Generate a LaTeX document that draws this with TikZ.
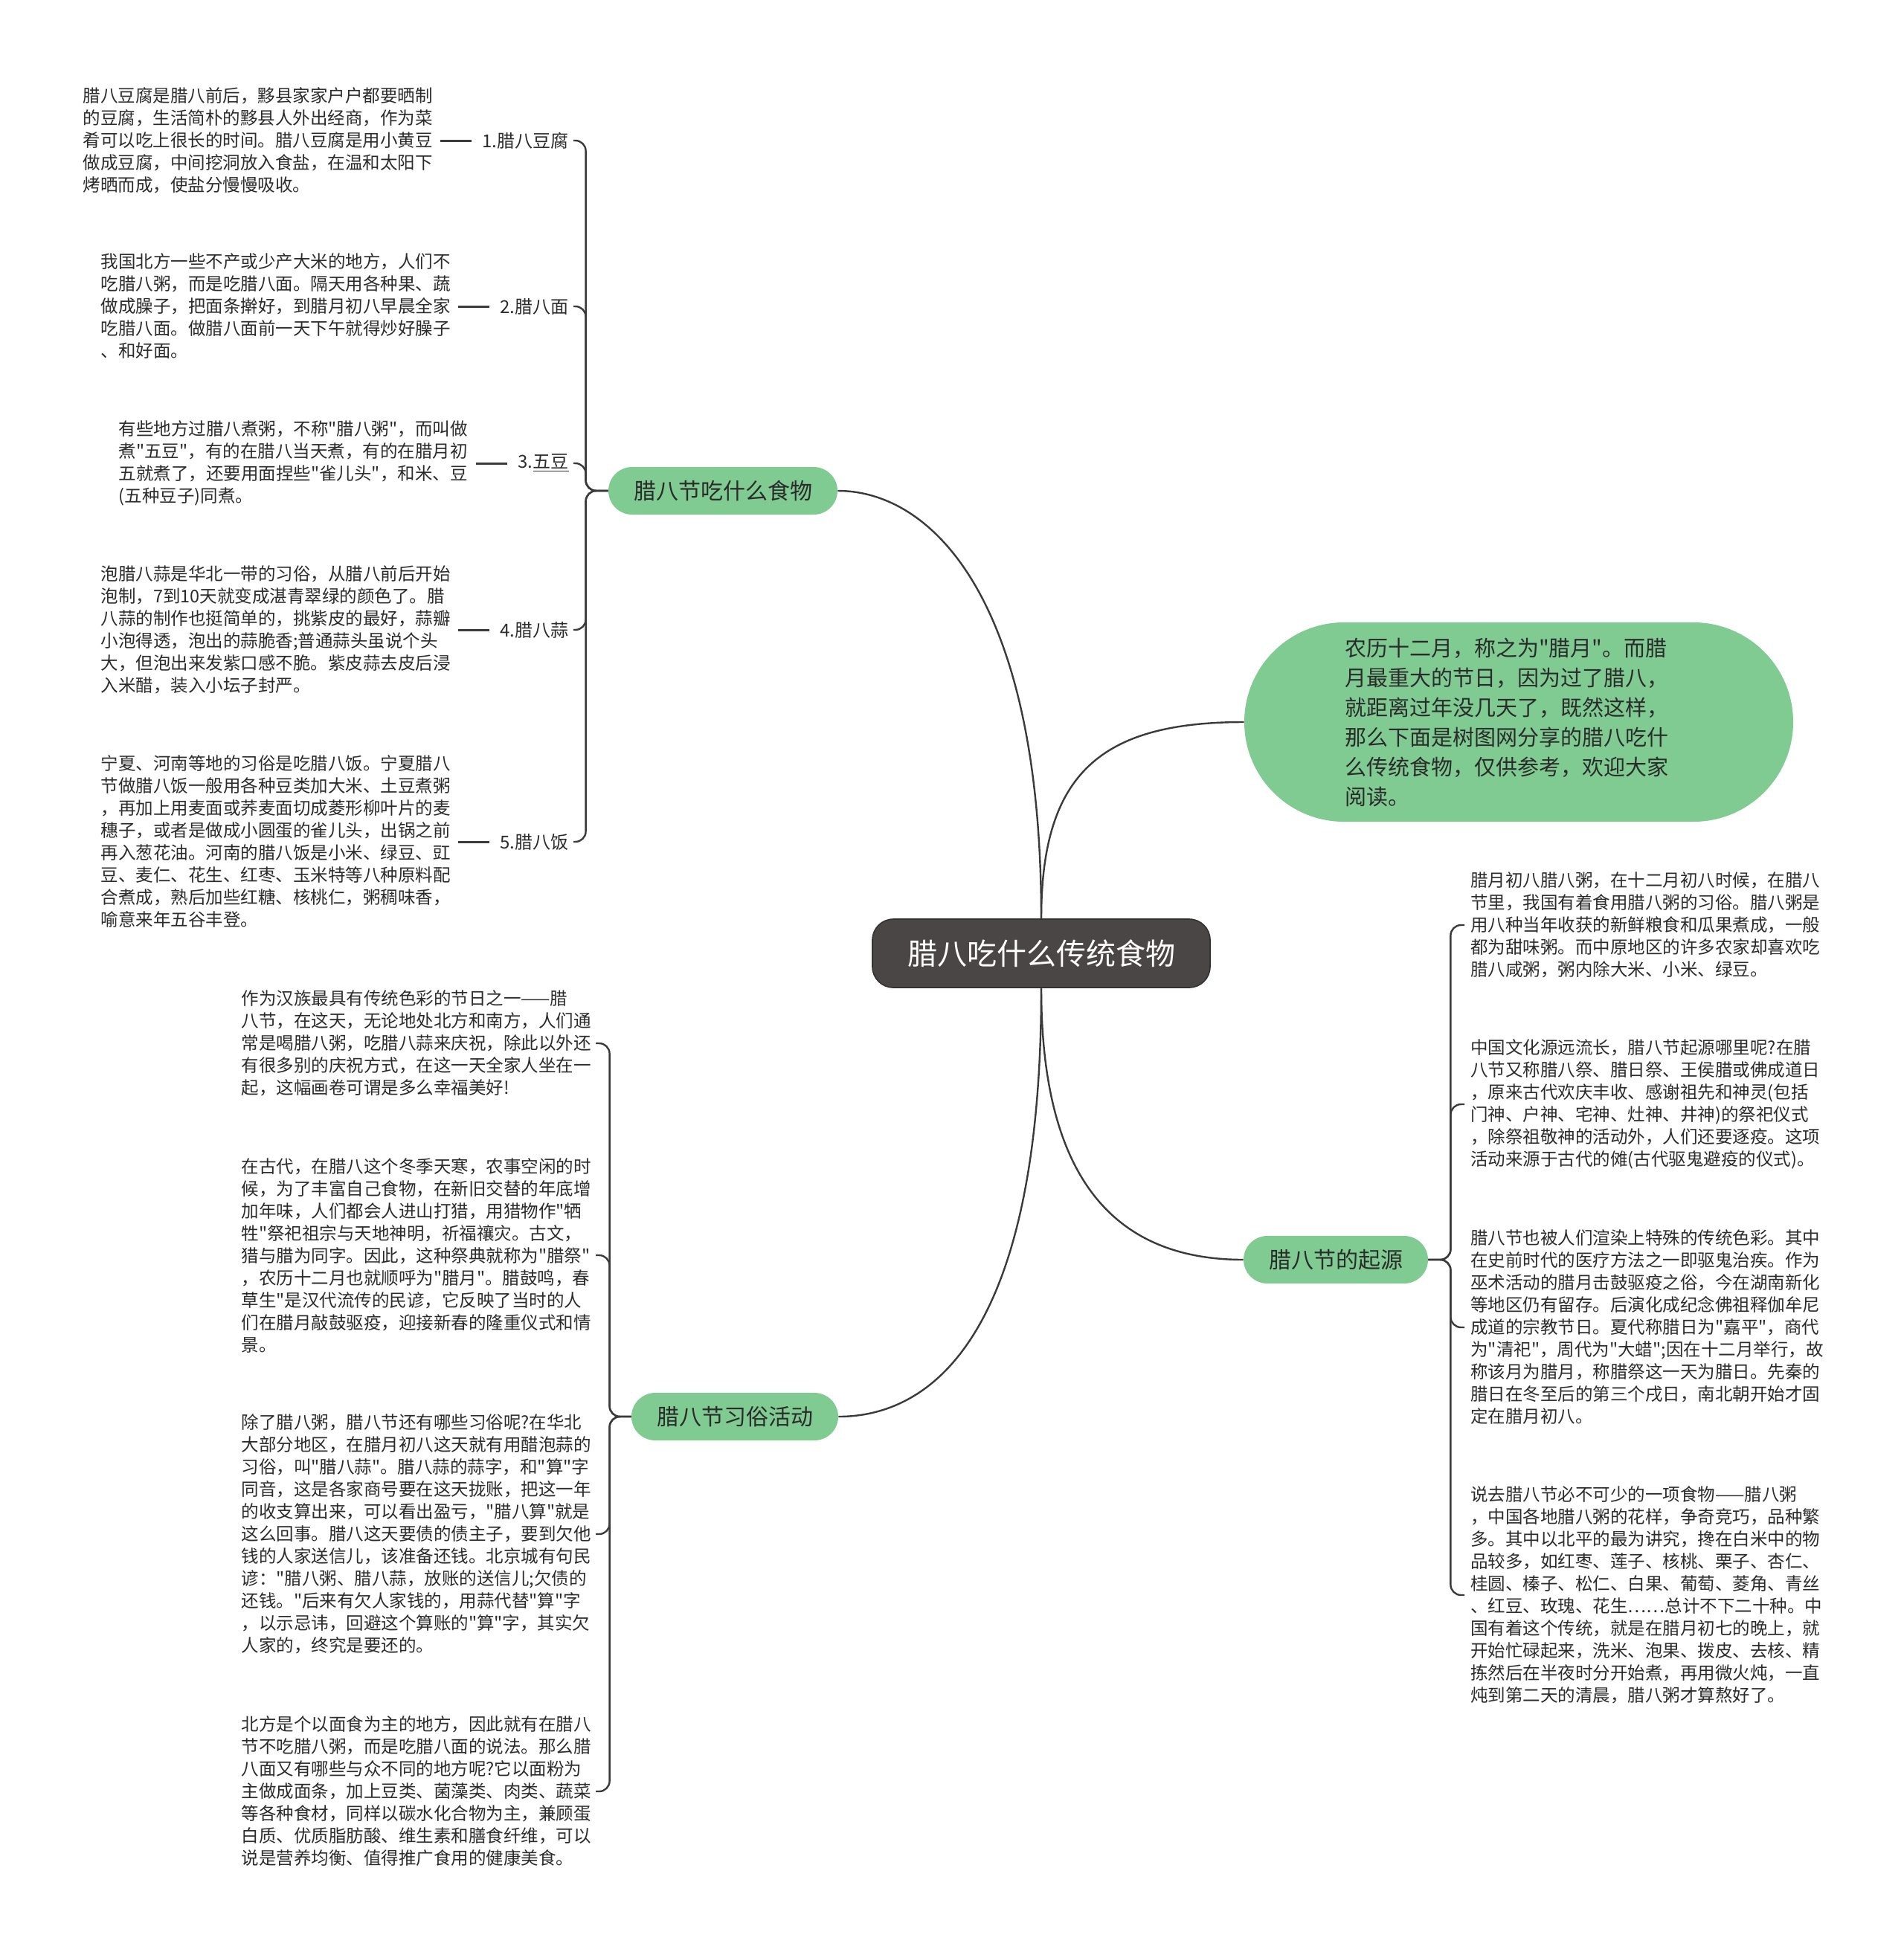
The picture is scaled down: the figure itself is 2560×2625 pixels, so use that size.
\documentclass[tikz,border=0pt]{standalone}
\usepackage{fontspec}
\newfontfamily\lbfont{Noto Sans CJK SC}
\usepackage{xcolor}
\usepackage{tikz}
\usetikzlibrary{positioning}
\definecolor{lbGreen}{HTML}{7FCB91}
\definecolor{lbDark}{HTML}{4A4646}
\definecolor{lbLine}{HTML}{3A3A3A}
\definecolor{lbText}{HTML}{2B2B2B}
\tikzset{
  lb-root/.style={
    fill=lbDark, draw=lbDark!70!black, line width=0.8pt,
    rounded corners=14pt, text=white,
    font=\lbfont\fontsize{20pt}{24pt}\selectfont,
    minimum width=227pt, minimum height=46pt, inner sep=0pt
  },
  lb-branch/.style={
    fill=lbGreen, rounded corners=16pt, text=lbText,
    font=\lbfont\fontsize{15pt}{18pt}\selectfont,
    minimum height=32pt, inner xsep=17pt, inner ysep=0pt
  },
  lb-bubble/.style={
    fill=lbGreen, rounded corners=67pt, text=lbText,
    font=\lbfont\fontsize{14.5pt}{20pt}\selectfont,
    minimum width=369pt, minimum height=134pt,
    text width=234pt, align=left, inner sep=0pt
  },
  lb-tag/.style={text=lbText, font=\lbfont\fontsize{12pt}{14pt}\selectfont,
    inner sep=0pt},
  lb-leaf/.style={text=lbText, font=\lbfont\fontsize{11.75pt}{15pt}\selectfont,
    text width=236pt, align=left, inner sep=0pt},
  lb-link/.style={draw=lbLine, line width=1.2pt},
  lb-fork/.style={lb-link, rounded corners=7pt},
  lb-tick/.style={draw=lbLine, line width=1.5pt}
}

\begin{document}
\begin{tikzpicture}[x=0.5pt, y=-0.5pt]
\useasboundingbox (0,0) rectangle (2560,2625);

% root
\node[lb-root] (root) at (1400,1282) {腊八吃什么传统食物};

% branches
\node[lb-branch] (food) at (972,660) {腊八节吃什么食物};
\node[lb-branch] (custom) at (988,1905) {腊八节习俗活动};
\node[lb-branch] (origin) at (1796,1694) {腊八节的起源};
\node[lb-bubble] (intro) at (2042,971)
  {农历十二月，称之为"腊月"。而腊\\
  月最重大的节日，因为过了腊八，\\
  就距离过年没几天了，既然这样，\\
  那么下面是树图网分享的腊八吃什\\
  么传统食物，仅供参考，欢迎大家\\
  阅读。};

\draw[lb-link] (root.north) .. controls (1400,800) and (1250,660) .. (food.east);
\draw[lb-link] (root.north) .. controls (1400,1040) and (1480,971) .. (intro.west);
\draw[lb-link] (root.south) .. controls (1400,1560) and (1480,1694) .. (origin.west);
\draw[lb-link] (root.south) .. controls (1400,1800) and (1250,1905) .. (custom.east);

% food items
\node[lb-tag, anchor=east] (tofu) at (765,189) {1.腊八豆腐};
\node[lb-tag, anchor=east] (noodle) at (765,412) {2.腊八面};
\node[lb-tag, anchor=east] (beans) at (765,623) {3.\underline{五豆}};
\node[lb-tag, anchor=east] (garlic) at (765,847) {4.腊八蒜};
\node[lb-tag, anchor=east] (rice) at (765,1132) {5.腊八饭};

\node[lb-leaf, left=32pt of tofu] (tofut)
  {腊八豆腐是腊八前后，黟县家家户户都要晒制\\
  的豆腐，生活简朴的黟县人外出经商，作为菜\\
  肴可以吃上很长的时间。腊八豆腐是用小黄豆\\
  做成豆腐，中间挖洞放入食盐，在温和太阳下\\
  烤晒而成，使盐分慢慢吸收。};
\node[lb-leaf, left=32pt of noodle] (noodlet)
  {我国北方一些不产或少产大米的地方，人们不\\
  吃腊八粥，而是吃腊八面。隔天用各种果、蔬\\
  做成臊子，把面条擀好，到腊月初八早晨全家\\
  吃腊八面。做腊八面前一天下午就得炒好臊子\\
  、和好面。};
\node[lb-leaf, left=32pt of beans] (beanst)
  {有些地方过腊八煮粥，不称"腊八粥"，而叫做\\
  煮"五豆"，有的在腊八当天煮，有的在腊月初\\
  五就煮了，还要用面捏些"雀儿头"，和米、豆\\
  (五种豆子)同煮。};
\node[lb-leaf, left=32pt of garlic] (garlict)
  {泡腊八蒜是华北一带的习俗，从腊八前后开始\\
  泡制，7到10天就变成湛青翠绿的颜色了。腊\\
  八蒜的制作也挺简单的，挑紫皮的最好，蒜瓣\\
  小泡得透，泡出的蒜脆香;普通蒜头虽说个头\\
  大，但泡出来发紫口感不脆。紫皮蒜去皮后浸\\
  入米醋，装入小坛子封严。};
\node[lb-leaf, left=32pt of rice] (ricet)
  {宁夏、河南等地的习俗是吃腊八饭。宁夏腊八\\
  节做腊八饭一般用各种豆类加大米、土豆煮粥\\
  ，再加上用麦面或荞麦面切成菱形柳叶片的麦\\
  穗子，或者是做成小圆蛋的雀儿头，出锅之前\\
  再入葱花油。河南的腊八饭是小米、绿豆、豇\\
  豆、麦仁、花生、红枣、玉米特等八种原料配\\
  合煮成，熟后加些红糖、核桃仁，粥稠味香，\\
  喻意来年五谷丰登。};

\foreach \t in {tofu,noodle,beans,garlic,rice}{
  \draw[lb-fork] (food.west) -- ++(-30,0) |- ([xshift=3pt]\t.east);
  \draw[lb-tick] ([xshift=-7pt]\t.west) -- ([xshift=4pt]\t t.east);
}

% origin items
\node[lb-leaf, anchor=west] (r1) at (1977,1244)
  {腊月初八腊八粥，在十二月初八时候，在腊八\\
  节里，我国有着食用腊八粥的习俗。腊八粥是\\
  用八种当年收获的新鲜粮食和瓜果煮成，一般\\
  都为甜味粥。而中原地区的许多农家却喜欢吃\\
  腊八咸粥，粥内除大米、小米、绿豆。};
\node[lb-leaf, anchor=west] (r2) at (1977,1485)
  {中国文化源远流长，腊八节起源哪里呢?在腊\\
  八节又称腊八祭、腊日祭、王侯腊或佛成道日\\
  ，原来古代欢庆丰收、感谢祖先和神灵(包括\\
  门神、户神、宅神、灶神、井神)的祭祀仪式\\
  ，除祭祖敬神的活动外，人们还要逐疫。这项\\
  活动来源于古代的傩(古代驱鬼避疫的仪式)。};
\node[lb-leaf, anchor=west] (r3) at (1977,1785)
  {腊八节也被人们渲染上特殊的传统色彩。其中\\
  在史前时代的医疗方法之一即驱鬼治疾。作为\\
  巫术活动的腊月击鼓驱疫之俗，今在湖南新化\\
  等地区仍有留存。后演化成纪念佛祖释伽牟尼\\
  成道的宗教节日。夏代称腊日为"嘉平"，商代\\
  为"清祀"，周代为"大蜡";因在十二月举行，故\\
  称该月为腊月，称腊祭这一天为腊日。先秦的\\
  腊日在冬至后的第三个戌日，南北朝开始才固\\
  定在腊月初八。};
\node[lb-leaf, anchor=west] (r4) at (1977,2145)
  {说去腊八节必不可少的一项食物——腊八粥\\
  ，中国各地腊八粥的花样，争奇竞巧，品种繁\\
  多。其中以北平的最为讲究，搀在白米中的物\\
  品较多，如红枣、莲子、核桃、栗子、杏仁、\\
  桂圆、榛子、松仁、白果、葡萄、菱角、青丝\\
  、红豆、玫瑰、花生……总计不下二十种。中\\
  国有着这个传统，就是在腊月初七的晚上，就\\
  开始忙碌起来，洗米、泡果、拨皮、去核、精\\
  拣然后在半夜时分开始煮，再用微火炖，一直\\
  炖到第二天的清晨，腊八粥才算熬好了。};

\foreach \r in {r1,r2,r3,r4}
  \draw[lb-fork] (origin.east) -- ++(30,0) |- ([xshift=-4pt]\r.west);

% custom items
\node[lb-leaf, anchor=east] (l1) at (797,1403)
  {作为汉族最具有传统色彩的节日之一——腊\\
  八节，在这天，无论地处北方和南方，人们通\\
  常是喝腊八粥，吃腊八蒜来庆祝，除此以外还\\
  有很多别的庆祝方式，在这一天全家人坐在一\\
  起，这幅画卷可谓是多么幸福美好!};
\node[lb-leaf, anchor=east] (l2) at (797,1688)
  {在古代，在腊八这个冬季天寒，农事空闲的时\\
  候，为了丰富自己食物，在新旧交替的年底增\\
  加年味，人们都会人进山打猎，用猎物作"牺\\
  牲"祭祀祖宗与天地神明，祈福禳灾。古文，\\
  猎与腊为同字。因此，这种祭典就称为"腊祭"\\
  ，农历十二月也就顺呼为"腊月"。腊鼓鸣，春\\
  草生"是汉代流传的民谚，它反映了当时的人\\
  们在腊月敲鼓驱疫，迎接新春的隆重仪式和情\\
  景。};
\node[lb-leaf, anchor=east] (l3) at (797,2063)
  {除了腊八粥，腊八节还有哪些习俗呢?在华北\\
  大部分地区，在腊月初八这天就有用醋泡蒜的\\
  习俗，叫"腊八蒜"。腊八蒜的蒜字，和"算"字\\
  同音，这是各家商号要在这天拢账，把这一年\\
  的收支算出来，可以看出盈亏，"腊八算"就是\\
  这么回事。腊八这天要债的债主子，要到欠他\\
  钱的人家送信儿，该准备还钱。北京城有句民\\
  谚："腊八粥、腊八蒜，放账的送信儿;欠债的\\
  还钱。"后来有欠人家钱的，用蒜代替"算"字\\
  ，以示忌讳，回避这个算账的"算"字，其实欠\\
  人家的，终究是要还的。};
\node[lb-leaf, anchor=east] (l4) at (797,2409)
  {北方是个以面食为主的地方，因此就有在腊八\\
  节不吃腊八粥，而是吃腊八面的说法。那么腊\\
  八面又有哪些与众不同的地方呢?它以面粉为\\
  主做成面条，加上豆类、菌藻类、肉类、蔬菜\\
  等各种食材，同样以碳水化合物为主，兼顾蛋\\
  白质、优质脂肪酸、维生素和膳食纤维，可以\\
  说是营养均衡、值得推广食用的健康美食。};

\foreach \l in {l1,l2,l3,l4}
  \draw[lb-fork] (custom.west) -- ++(-29,0) |- ([xshift=2pt]\l.east);
\end{tikzpicture}
\end{document}
